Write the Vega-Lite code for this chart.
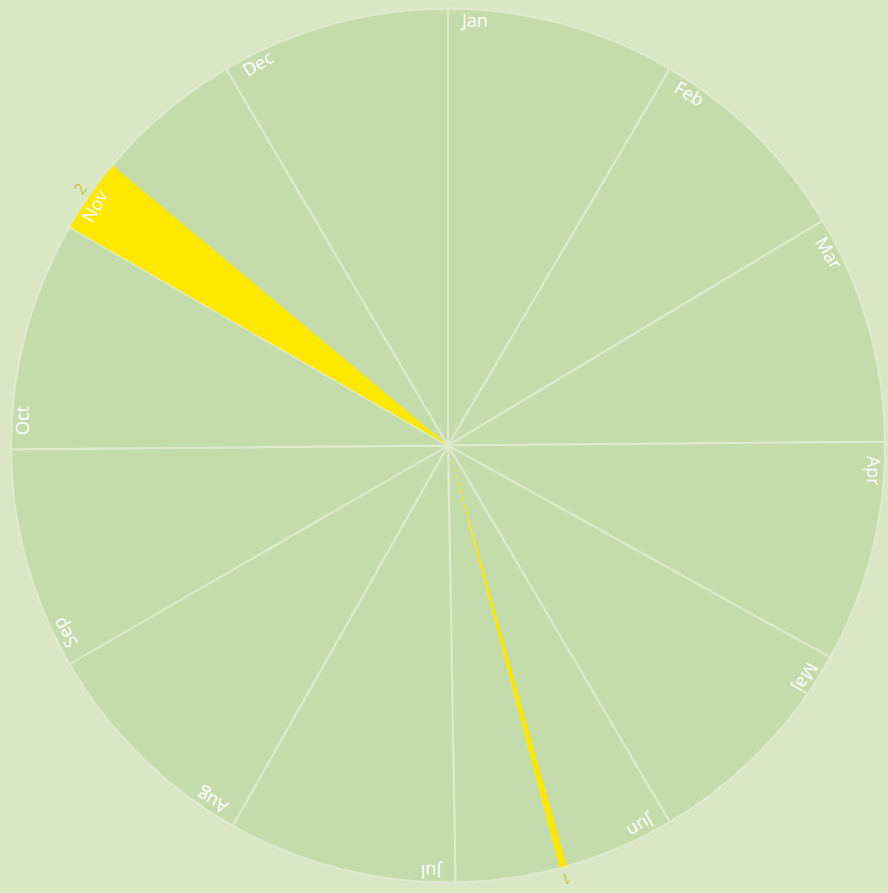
{
  "$schema": "https://vega.github.io/schema/vega-lite/v6.json",
  "width": 880,
  "height": 891,
  "autosize": {"type": "none"},
  "padding": {"left": 8, "top": 0, "right": 0, "bottom": 2},
  "background": "#d9e7c5",
  "config": {"view": {"stroke": null}},
  "datasets": {
    "months": [
      {"month": "Jan", "start": 0, "end": 31},
      {"month": "Feb", "start": 31, "end": 60},
      {"month": "Mar", "start": 60, "end": 91},
      {"month": "Apr", "start": 91, "end": 121},
      {"month": "Maj", "start": 121, "end": 152},
      {"month": "Jun", "start": 152, "end": 182},
      {"month": "Jul", "start": 182, "end": 213},
      {"month": "Aug", "start": 213, "end": 244},
      {"month": "Sep", "start": 244, "end": 274},
      {"month": "Oct", "start": 274, "end": 305},
      {"month": "Nov", "start": 305, "end": 335},
      {"month": "Dec", "start": 335, "end": 366}
    ],
    "events": [
      {"value": "1", "start": 167, "end": 168, "mid": 167.5},
      {"value": "2", "start": 305, "end": 315, "mid": 310}
    ]
  },
  "layer": [
    {
      "data": {"name": "months"},
      "mark": {"type": "arc", "outerRadius": 437, "innerRadius": 0, "fill": "#c4dcab", "stroke": "#dfeacf", "strokeWidth": 2},
      "encoding": {
        "theta": {"field": "start", "type": "quantitative", "stack": null, "scale": {"domain": [0, 366], "range": [0, 6.283185307]}},
        "theta2": {"field": "end"}
      }
    },
    {
      "data": {"name": "events"},
      "mark": {"type": "arc", "outerRadius": 437, "innerRadius": 0, "fill": "#ffe800"},
      "encoding": {
        "theta": {"field": "start", "type": "quantitative", "stack": null, "scale": {"domain": [0, 366], "range": [0, 6.283185307]}},
        "theta2": {"field": "end"}
      }
    },
    {
      "data": {"name": "months"},
      "mark": {"type": "text", "radius": 433, "align": "left", "baseline": "top", "dx": 14, "font": "Open Sans", "fontSize": 18, "fill": "#ffffff"},
      "encoding": {
        "theta": {"field": "start", "type": "quantitative", "stack": null, "scale": {"domain": [0, 366], "range": [0, 6.283185307]}},
        "angle": {"field": "start", "type": "quantitative", "legend": null, "scale": {"domain": [0, 366], "range": [0, 360]}},
        "text": {"field": "month", "type": "nominal"}
      }
    },
    {
      "data": {"name": "events"},
      "mark": {"type": "text", "radius": 448, "align": "center", "baseline": "middle", "font": "Open Sans", "fontSize": 16, "fill": "#c8c53c"},
      "encoding": {
        "theta": {"field": "mid", "type": "quantitative", "stack": null, "scale": {"domain": [0, 366], "range": [0, 6.283185307]}},
        "angle": {"field": "mid", "type": "quantitative", "legend": null, "scale": {"domain": [0, 366], "range": [0, 360]}},
        "text": {"field": "value", "type": "nominal"}
      }
    }
  ]
}
